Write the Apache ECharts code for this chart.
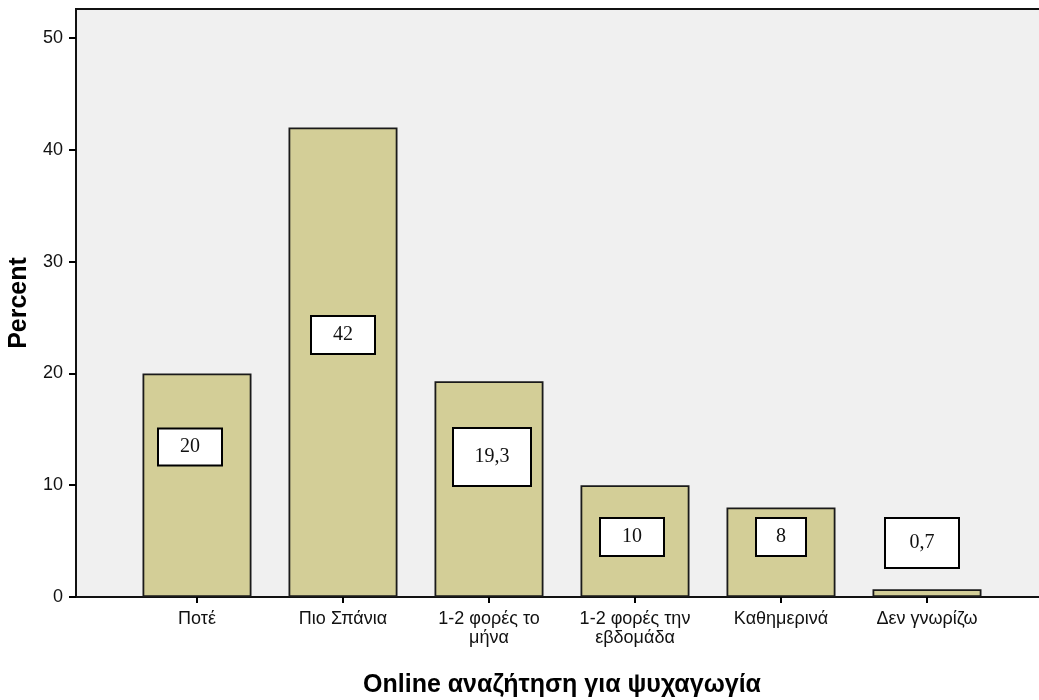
<!DOCTYPE html>
<html>
<head>
<meta charset="utf-8">
<script src="https://cdn.jsdelivr.net/npm/echarts@6/dist/echarts.min.js"></script>
<style>
  html, body { margin: 0; padding: 0; background: #fff; }
  #main { width: 1039px; height: 700px; }
</style>
</head>
<body>
<div id="main"></div>
<script>
const categories = [
  "Ποτέ",
  "Πιο Σπάνια",
  "1-2 φορές το\nμήνα",
  "1-2 φορές την\nεβδομάδα",
  "Καθημερινά",
  "Δεν γνωρίζω",
];
const percents = [20, 42, 19.3, 10, 8, 0.7];
const valueLabels = ["20", "42", "19,3", "10", "8", "0,7"];
const yTicks = [0, 10, 20, 30, 40, 50];

const chart = echarts.init(document.getElementById("main"));

// label box placement, as SPSS put them (distance from bar base, x shift, box size)
const boxes = [
  { dist: 150, dx: -7, w: 62, h: 35 },
  { dist: 262, dx: 0, w: 62, h: 36 },
  { dist: 140, dx: 3, w: 76, h: 56 },
  { dist: 60, dx: -3, w: 62, h: 36 },
  { dist: 60, dx: 0, w: 48, h: 36 },
  { dist: 54, dx: -5, w: 72, h: 48 },
];

const yMax = 52.6;

const option = {
  animation: false,
  grid: [
    {
      left: 76, right: -4, top: 9, bottom: 103,
      outerBoundsMode: "none",
      containLabel: false,
      show: true,
      backgroundColor: "#f0f0f0",
      borderColor: "#111",
      borderWidth: 2,
    },
    {
      left: 124, right: 39, top: 9, bottom: 103,
      outerBoundsMode: "none",
      containLabel: false,
    },
  ],
  xAxis: [
    { gridIndex: 0, type: "value", show: false, min: 0, max: 1 },
    {
      gridIndex: 1,
      type: "category",
      data: categories,
      axisLine: { show: false },
      axisTick: {
        show: true,
        alignWithLabel: true,
        length: 6,
        lineStyle: { color: "#000", width: 2 },
      },
      axisLabel: {
        color: "#111",
        fontFamily: "Liberation Sans",
        fontSize: 18,
        lineHeight: 19,
        margin: 13,
        interval: 0,
      },
      name: "Online αναζήτηση για ψυχαγωγία",
      nameLocation: "middle",
      nameGap: 76,
      nameTextStyle: {
        color: "#000",
        fontFamily: "Liberation Sans",
        fontWeight: "bold",
        fontSize: 25,
      },
    },
  ],
  yAxis: [
    {
      gridIndex: 0,
      type: "value",
      min: 0,
      max: yMax,
      interval: 10,
      splitLine: { show: false },
      axisLine: { show: true, lineStyle: { color: "#111", width: 2 } },
      axisTick: {
        show: true,
        length: 7,
        customValues: yTicks,
        lineStyle: { color: "#000", width: 2 },
      },
      axisLabel: {
        color: "#111",
        fontFamily: "Liberation Sans",
        fontSize: 18,
        margin: 13,
        customValues: yTicks,
      },
      name: "Percent",
      nameLocation: "middle",
      nameGap: 41,
      nameRotate: 90,
      nameTextStyle: {
        color: "#000",
        fontFamily: "Liberation Sans",
        fontWeight: "bold",
        fontSize: 25,
      },
    },
    { gridIndex: 1, type: "value", min: 0, max: yMax, show: false },
  ],
  series: [
    {
      type: "bar",
      xAxisIndex: 1,
      yAxisIndex: 1,
      barWidth: 109,
      itemStyle: { color: "#d3ce97", borderColor: "#1a1a1a", borderWidth: 1.8 },
      data: percents.map((v, i) => ({
        value: v,
        label: {
          show: true,
          position: "insideBottom",
          distance: boxes[i].dist,
          offset: [boxes[i].dx, 0],
          formatter: valueLabels[i],
          width: boxes[i].w,
          height: boxes[i].h,
          align: "center",
          verticalAlign: "middle",
          backgroundColor: "#fff",
          borderColor: "#000",
          borderWidth: 2,
          color: "#111",
          fontFamily: "Liberation Serif",
          fontSize: 20,
        },
      })),
    },
  ],
};

chart.setOption(option);
</script>
</body>
</html>
